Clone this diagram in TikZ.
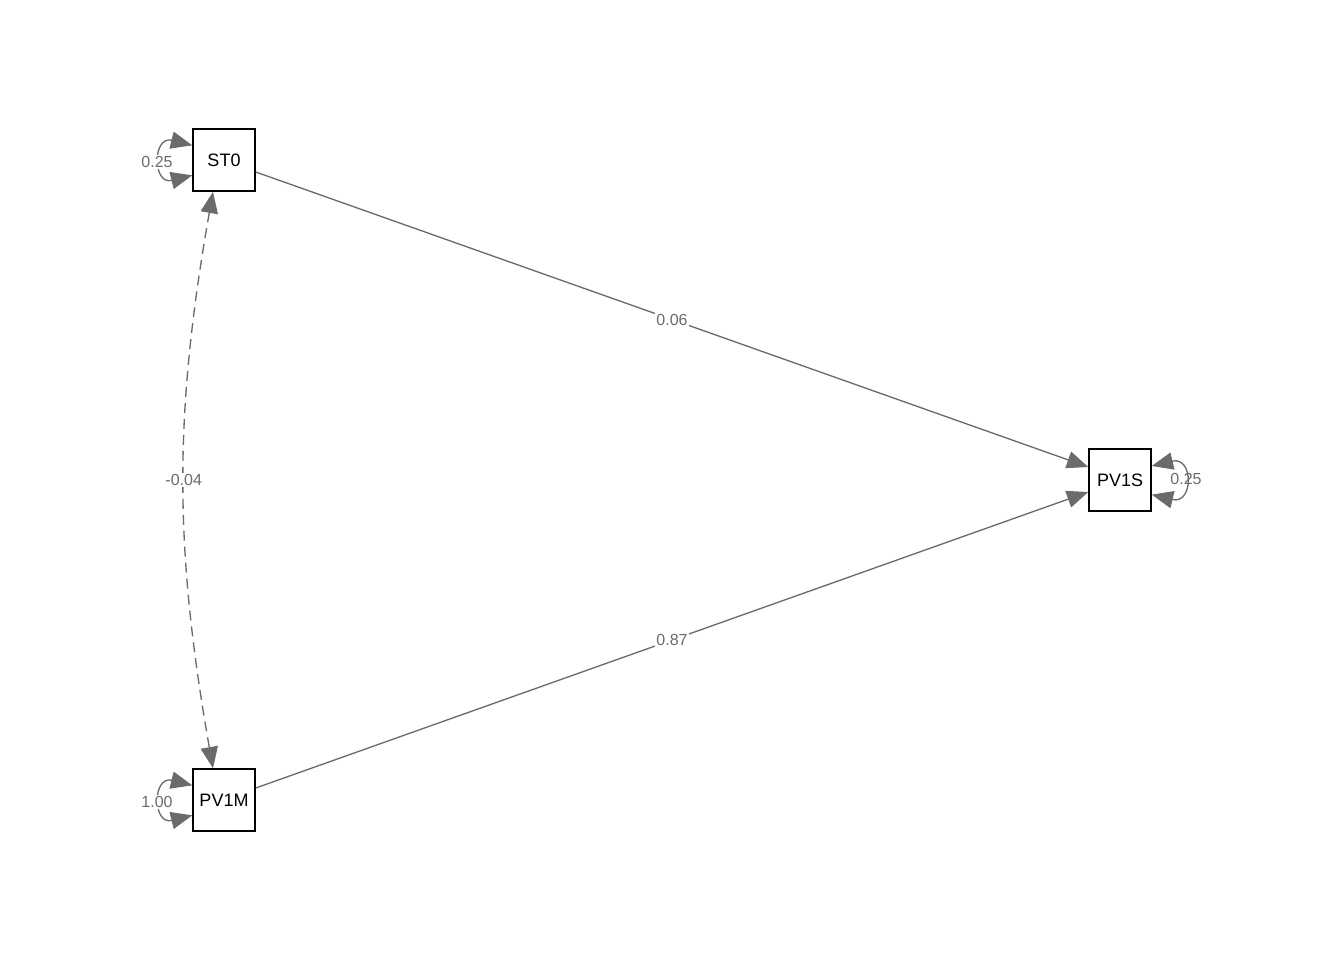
\documentclass[tikz,border=0pt]{standalone}
\usepackage{fontspec}
\setmainfont{Liberation Sans}
\usepackage{xcolor}
\usetikzlibrary{arrows.meta}
\definecolor{pathgray}{RGB}{107,107,107}
\tikzset{every picture/.style={line width=0.75pt}}
\tikzset{
  manifest/.style={draw=black,line width=1.1pt,fill=white,minimum size=46.5pt,inner sep=0pt,font=\fontsize{13.5}{15}\selectfont},
  regpath/.style={draw=pathgray,line width=1pt,-{Triangle[length=16pt,width=13pt]}},
  covpath/.style={draw=pathgray,line width=1pt,dash pattern=on 7.5pt off 4.5pt,{Triangle[length=16pt,width=13pt]}-{Triangle[length=16pt,width=13pt]}},
  varpath/.style={draw=pathgray,line width=1pt,{Triangle[length=16pt,width=13pt]}-{Triangle[length=16pt,width=13pt]}},
  est/.style={fill=white,inner sep=1pt,text=pathgray,font=\fontsize{12}{14}\selectfont}
}
\begin{document}
\begin{tikzpicture}[x=0.75pt,y=0.75pt,yscale=-1,xscale=1]
\useasboundingbox (0,0) rectangle (1344,960);

%Observed variables
\node[manifest] (st0) at (224,160) {ST0};
\node[manifest] (pv1m) at (224,800) {PV1M};
\node[manifest] (pv1s) at (1120,480) {PV1S};

%Regressions
\draw[regpath] ([yshift=9pt]st0.east) -- ([yshift=-9.75pt]pv1s.west) node[est,midway] {0.06};
\draw[regpath] ([yshift=-9pt]pv1m.east) -- ([yshift=9pt]pv1s.west) node[est,midway] {0.87};

%Covariance
\draw[covpath] ([xshift=-8.25pt]st0.south) to[bend left=10] node[est,midway] {-0.04} ([xshift=-8.25pt]pv1m.north);

%Variances
\draw[varpath] ([yshift=-11pt]st0.west) .. controls +(-40,-10) and +(-40,10) .. ([yshift=11.5pt]st0.west);
\node[est] (st0var) at (157,162) {0.25};
\draw[varpath] ([yshift=-11pt]pv1m.west) .. controls +(-40,-10) and +(-40,10) .. ([yshift=11.5pt]pv1m.west);
\node[est] (pv1mvar) at (157,802) {1.00};
\draw[varpath] ([yshift=-10.5pt]pv1s.east) .. controls +(42,-10) and +(42,10) .. ([yshift=11pt]pv1s.east);
\node[est,fill=none] (pv1svar) at (1186,479) {0.25};

\end{tikzpicture}
\end{document}
